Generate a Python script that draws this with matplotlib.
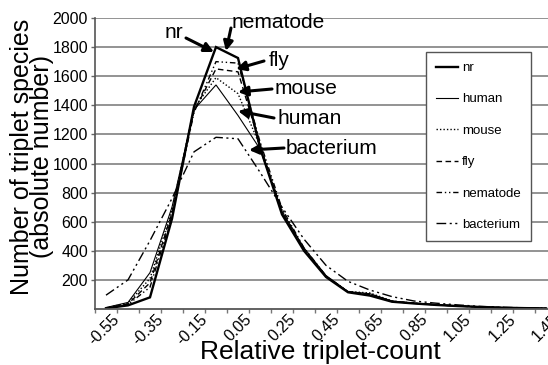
import matplotlib
matplotlib.use("Agg")
import matplotlib.pyplot as plt
import matplotlib.transforms as mtransforms

plt.rcParams['font.family'] = ['Liberation Sans', 'DejaVu Sans']

# ---- data ----
x_vals = [-0.55, -0.45, -0.35, -0.25, -0.15, -0.05, 0.05, 0.15, 0.25, 0.35, 0.45,
          0.55, 0.65, 0.75, 0.85, 0.95, 1.05, 1.15, 1.25, 1.35, 1.45]
tick_labels = ["-0.55", "-0.35", "-0.15", "0.05", "0.25", "0.45",
               "0.65", "0.85", "1.05", "1.25", "1.45"]

nr        = [5, 25, 80, 620, 1390, 1800, 1725, 1110, 650, 400, 220, 115, 92, 50, 38, 28, 20, 14, 9, 6, 4]
human     = [10, 45, 250, 700, 1370, 1540, 1330, 1100, 670, 420, 230, 120, 105, 55, 40, 30, 21, 15, 10, 6, 4]
mouse     = [8, 40, 210, 680, 1380, 1590, 1480, 1120, 680, 410, 225, 120, 110, 55, 40, 29, 21, 15, 10, 6, 4]
fly       = [5, 35, 180, 660, 1360, 1650, 1630, 1130, 660, 410, 225, 118, 100, 52, 39, 29, 20, 14, 9, 6, 4]
nematode  = [5, 30, 150, 640, 1350, 1700, 1690, 1150, 690, 420, 228, 118, 98, 52, 39, 29, 20, 14, 9, 6, 4]
bacterium = [95, 200, 470, 760, 1080, 1180, 1170, 940, 700, 480, 300, 190, 130, 85, 55, 40, 28, 18, 12, 8, 5]

series = [
    ("nr", nr, dict(lw=1.7, ls='-')),
    ("human", human, dict(lw=0.8, ls='-')),
    ("mouse", mouse, dict(lw=1.0, ls=(0, (1, 1.5)))),
    ("fly", fly, dict(lw=1.0, ls=(0, (4, 2.5)))),
    ("nematode", nematode, dict(lw=1.0, ls=(0, (4, 2, 1, 2, 1, 2)))),
    ("bacterium", bacterium, dict(lw=1.0, ls=(0, (7, 2.5, 1.5, 2.5, 1.5, 2.5)))),
]

W, H = 548, 365
fig = plt.figure(figsize=(W / 100, H / 100), dpi=100)
fig.patch.set_facecolor('white')

L, R, T, B = 95, 557, 18, 309
ax = fig.add_axes([L / W, (H - B) / H, (R - L) / W, (B - T) / H])
ax.set_xlim(-0.6, 1.5)
ax.set_ylim(0, 2000)

for name, vals, st in series:
    ax.plot(x_vals, vals, color='black', label=name, solid_joinstyle='miter', **st)

# grid
ax.set_yticks(range(200, 2001, 200))
ax.yaxis.grid(True, color='#8a8a8a', lw=1.3)
ax.set_axisbelow(True)
ax.tick_params(axis='y', length=3, width=1, color='#666666', labelsize=11.5, pad=2)
for sp in ['top', 'right']:
    ax.spines[sp].set_visible(False)
ax.spines['left'].set_color('#555555')
ax.spines['left'].set_linewidth(1.2)
ax.spines['bottom'].set_color('#555555')
ax.spines['bottom'].set_linewidth(1.3)

# x ticks: labels at every other category, minor tick marks between categories
ax.set_xticks([float(t) for t in tick_labels])
ax.set_xticklabels(tick_labels, rotation=45, ha='right', va='center',
                   rotation_mode='anchor', fontsize=11.5)
ax.tick_params(axis='x', length=0, pad=0)
offset = mtransforms.ScaledTranslation(11 / 100, -8 / 100, fig.dpi_scale_trans)
for lab in ax.get_xticklabels():
    lab.set_transform(lab.get_transform() + offset)
minor = [round(-0.6 + 0.1 * i, 2) for i in range(22)]
ax.set_xticks(minor, minor=True)
ax.tick_params(axis='x', which='minor', length=3, width=1, color='#777777')

# axis titles
fig.text(320 / W, 0.002, "Relative triplet-count", ha='center', va='bottom', fontsize=19)
fig.text(32 / W, 1 - 157 / H, "Number of triplet species\n(absolute number)",
         rotation=90, ha='center', va='center', fontsize=18, linespacing=0.78,
         multialignment='center')

# legend
leg = ax.legend(loc='upper left', bbox_to_anchor=(426 / W, 1 - 52 / H),
                bbox_transform=fig.transFigure, borderaxespad=0, fontsize=9.5,
                handlelength=1.7, handletextpad=0.3, labelspacing=1.45,
                borderpad=0.75, fancybox=False, framealpha=1, edgecolor='#555555')
leg.get_frame().set_linewidth(1.0)


def px2d(px, py):
    return (-0.6 + (px - L) / 220.0, (B - py) * 2000.0 / (B - T))


annots = [
    ("nr", (174, 32), (186, 38), (214, 52)),
    ("nematode", (278, 22), (231, 28), (226, 51)),
    ("fly", (279, 61), (264, 61), (236, 69)),
    ("mouse", (306, 89), (272, 89), (238, 92)),
    ("human", (310, 119), (274, 118), (238, 111)),
    ("bacterium", (332, 148), (284, 148), (249, 150)),
]
for txt, tpos, tail, tip in annots:
    ax.text(*px2d(*tpos), txt, ha='center', va='center', fontsize=15, clip_on=False)
    ax.annotate('', xy=px2d(*tip), xytext=px2d(*tail),
                arrowprops=dict(arrowstyle='-|>', color='black', lw=2.2,
                                mutation_scale=14, shrinkA=0, shrinkB=0))

fig.savefig('out.png', dpi=100)
